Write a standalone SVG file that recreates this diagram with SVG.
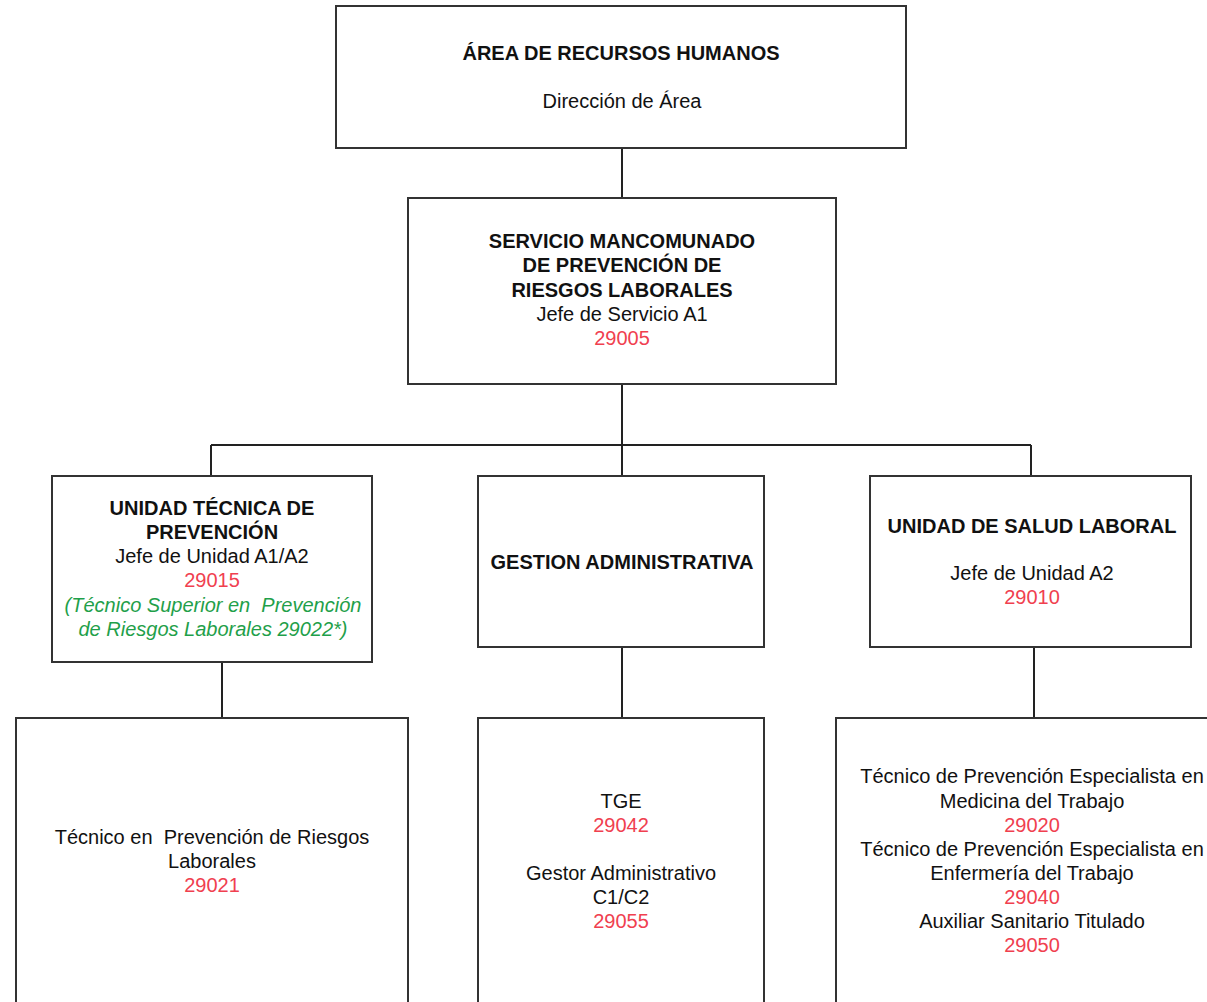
<svg xmlns="http://www.w3.org/2000/svg" width="1207" height="1002" viewBox="0 0 1207 1002">
<style>
.box{fill:#fff;stroke:#333;stroke-width:2}
.conn{stroke:#222;stroke-width:2;fill:none}
text{font-family:"Liberation Sans",Arial,sans-serif;font-size:20px;text-anchor:middle;fill:#111}
.b{font-weight:bold}
.r{fill:#f0404f}
.g{fill:#1fa04a;font-style:italic}
</style>
<rect width="1207" height="1002" fill="#fff"/>
<g id="connectors">
<path class="conn" d="M622 148V198M622 384V445M211 445H1031M211 445V476M622 445V476M1031 445V476M222 662V718M622 647V718M1034 647V718"/>
</g>
<g id="n1">
<rect class="box" x="336" y="6" width="570" height="142"/>
<text class="b" x="621" y="60">ÁREA DE RECURSOS HUMANOS</text>
<text x="622" y="108">Dirección de Área</text>
</g>
<g id="n2">
<rect class="box" x="408" y="198" width="428" height="186"/>
<text class="b" x="622" y="248">SERVICIO MANCOMUNADO</text>
<text class="b" x="622" y="272">DE PREVENCIÓN DE</text>
<text class="b" x="622" y="297">RIESGOS LABORALES</text>
<text x="622" y="321">Jefe de Servicio A1</text>
<text class="r" x="622" y="345">29005</text>
</g>
<g id="n3">
<rect class="box" x="52" y="476" width="320" height="186"/>
<text class="b" x="212" y="515">UNIDAD TÉCNICA DE</text>
<text class="b" x="212" y="539">PREVENCIÓN</text>
<text x="212" y="563">Jefe de Unidad A1/A2</text>
<text class="r" x="212" y="587">29015</text>
<text class="g" x="213" y="612" xml:space="preserve">(Técnico Superior en  Prevención</text>
<text class="g" x="213" y="636">de Riesgos Laborales 29022*)</text>
</g>
<g id="n4">
<rect class="box" x="478" y="476" width="286" height="171"/>
<text class="b" x="622" y="569">GESTION ADMINISTRATIVA</text>
</g>
<g id="n5">
<rect class="box" x="870" y="476" width="321" height="171"/>
<text class="b" x="1032" y="533">UNIDAD DE SALUD LABORAL</text>
<text x="1032" y="580">Jefe de Unidad A2</text>
<text class="r" x="1032" y="604">29010</text>
</g>
<g id="n6">
<rect class="box" x="16" y="718" width="392" height="300"/>
<text x="212" y="844" xml:space="preserve">Técnico en  Prevención de Riesgos</text>
<text x="212" y="868">Laborales</text>
<text class="r" x="212" y="892">29021</text>
</g>
<g id="n7">
<rect class="box" x="478" y="718" width="286" height="300"/>
<text x="621" y="808">TGE</text>
<text class="r" x="621" y="832">29042</text>
<text x="621" y="880">Gestor Administrativo</text>
<text x="621" y="904">C1/C2</text>
<text class="r" x="621" y="928">29055</text>
</g>
<g id="n8">
<rect class="box" x="836" y="718" width="400" height="300"/>
<text x="1032" y="783">Técnico de Prevención Especialista en</text>
<text x="1032" y="808">Medicina del Trabajo</text>
<text class="r" x="1032" y="832">29020</text>
<text x="1032" y="856">Técnico de Prevención Especialista en</text>
<text x="1032" y="880">Enfermería del Trabajo</text>
<text class="r" x="1032" y="904">29040</text>
<text x="1032" y="928">Auxiliar Sanitario Titulado</text>
<text class="r" x="1032" y="952">29050</text>
</g>
</svg>
